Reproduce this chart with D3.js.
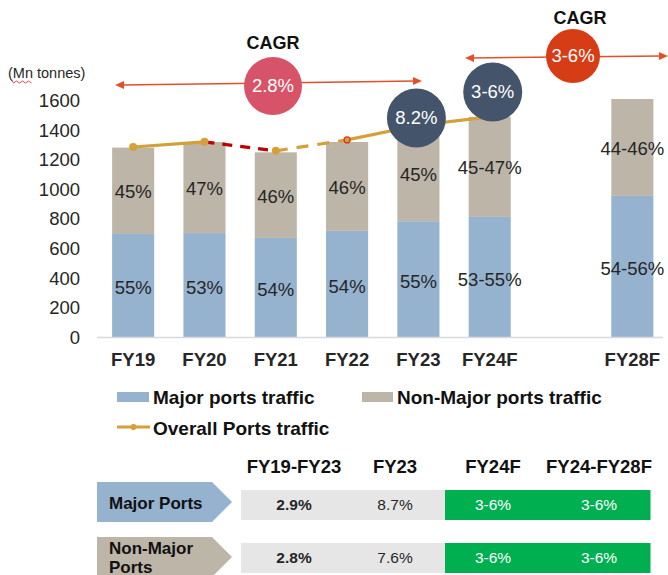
<!DOCTYPE html>
<html lang="en">
<head>
	<meta charset="UTF-8">
	<title>Port traffic</title>
	<script src="https://cdn.jsdelivr.net/npm/d3@7"></script>
	<style>
		*{
			margin: 0px;
			box-sizing: border-box;
		}
		html,body{
			width:668px;
			height:575px;
			overflow: hidden;
			background:#fff;
		}
		text{
			font-family: "Liberation Sans", Arial, sans-serif;
		}
		.yAxis path,.yAxis line,.xAxis path,.xAxis line{
			stroke:none;
		}
	</style>
</head>
<body>
	<svg id="svg"></svg>
	<script>
		// chart data
		var years = ["FY19", "FY20", "FY21", "FY22", "FY23", "FY24F", "FY28F"];
		var majorTraffic = [699, 705, 672, 720, 785, 814, 956];
		var nonMajorTraffic = [583, 615, 578, 600, 645, 676, 654];
		var majorShare = ["55%", "53%", "54%", "54%", "55%", "53-55%", "54-56%"];
		var nonMajorShare = ["45%", "47%", "46%", "46%", "45%", "45-47%", "44-46%"];
		var lineYears = ["FY19", "FY20", "FY21", "FY22", "FY23", "FY24F"];
		var overallTraffic = [1286, 1321, 1260, 1334, 1433, 1490];
		var yTicks = [0, 200, 400, 600, 800, 1000, 1200, 1400, 1600];

		// CAGR table
		var tableHeaders = ["FY19-FY23", "FY23", "FY24F", "FY24-FY28F"];
		var tableRows = [["Major Ports"], ["Non-Major", "Ports"]];
		var tableValues = [
			["2.9%", "8.7%", "3-6%", "3-6%"],
			["2.8%", "7.6%", "3-6%", "3-6%"]
		];

		var w = 668, h = 575;
		var svg = d3.select("#svg").attr("width", w).attr("height", h);

		var cMajor = "#95b3cf", cNon = "#bdb5a7", cLine = "#d4a03a", cRed = "#c00000";
		var txt = "#262626";

		var slots = years.slice(0, 6).concat([" "]).concat(["FY28F"]);
		var x = d3.scaleBand().domain(slots).range([97.5, 668])
			.paddingInner(0.41).paddingOuter(0.205);
		var y = d3.scaleLinear().domain([0, 1600]).range([337.5, 100.5]);
		var cx = function(d) { return x(d) + x.bandwidth() / 2; };

		// y axis
		svg.append("g").attr("class", "yAxis")
			.attr("transform", "translate(84,0)")
			.call(d3.axisLeft(y).tickValues(yTicks).tickFormat(d3.format("d")).tickSize(0).tickPadding(4))
			.selectAll("text")
			.style("font-size", "18.5px")
			.style("font-family", "'Liberation Sans', Arial, sans-serif")
			.attr("fill", txt);

		svg.append("text").attr("x", 8).attr("y", 78)
			.style("font-size", "14.5px").attr("fill", txt).text("(Mn tonnes)");
		// spell-check squiggle
		var sq = d3.path();
		sq.moveTo(12, 81);
		for (var i = 0; i < 7; i++) {
			sq.lineTo(13.5 + i * 3, i % 2 == 0 ? 83 : 81);
		}
		svg.append("path").attr("d", sq.toString()).attr("fill", "none")
			.attr("stroke", "#e02020").attr("stroke-width", 0.8);

		// stacked bars
		var g = svg.append("g");
		years.forEach(function(yr, i) {
			var m = majorTraffic[i], n = nonMajorTraffic[i];
			g.append("rect").attr("x", x(yr)).attr("width", x.bandwidth())
				.attr("y", y(m)).attr("height", y(0) - y(m)).attr("fill", cMajor);
			g.append("rect").attr("x", x(yr)).attr("width", x.bandwidth())
				.attr("y", y(m + n)).attr("height", y(m) - y(m + n)).attr("fill", cNon);
			g.append("text").attr("x", cx(yr)).attr("y", y(m / 2) + 2)
				.attr("dy", "0.35em").attr("text-anchor", "middle")
				.style("font-size", "18.5px").attr("fill", txt).text(majorShare[i]);
			g.append("text").attr("x", cx(yr)).attr("y", y(m + n / 2) + 1)
				.attr("dy", "0.35em").attr("text-anchor", "middle")
				.style("font-size", "18.5px").attr("fill", txt).text(nonMajorShare[i]);
		});

		// x axis
		svg.append("line").attr("x1", 97).attr("x2", 663)
			.attr("y1", y(0)).attr("y2", y(0))
			.attr("stroke", "#d9d9d9").attr("stroke-width", 1.5);
		svg.append("g").attr("class", "xAxis")
			.attr("transform", "translate(0," + y(0) + ")")
			.call(d3.axisBottom(x).tickValues(years).tickSize(0).tickPadding(15))
			.selectAll("text")
			.style("font-size", "18.5px").style("font-weight", "bold")
			.style("font-family", "'Liberation Sans', Arial, sans-serif")
			.attr("fill", txt);

		// overall traffic line, segment styles
		var pts = lineYears.map(function(yr, i) { return [cx(yr), y(overallTraffic[i])]; });
		var segStyle = [
			{ c: cLine, dash: null },
			{ c: cRed, dash: "10,8" },
			{ c: cLine, dash: "12,9" },
			{ c: cLine, dash: null },
			{ c: cLine, dash: null }
		];
		var lineG = svg.append("g");
		for (var s = 0; s < pts.length - 1; s++) {
			lineG.append("line")
				.attr("x1", pts[s][0]).attr("y1", pts[s][1])
				.attr("x2", pts[s + 1][0]).attr("y2", pts[s + 1][1])
				.attr("stroke", segStyle[s].c).attr("stroke-width", 3.2)
				.attr("stroke-dasharray", segStyle[s].dash);
		}
		[0, 1, 2].forEach(function(i) {
			lineG.append("circle").attr("cx", pts[i][0]).attr("cy", pts[i][1])
				.attr("r", 4).attr("fill", cLine);
		});
		lineG.append("circle").attr("cx", pts[3][0]).attr("cy", pts[3][1])
			.attr("r", 3).attr("fill", cLine).attr("stroke", "#e03020").attr("stroke-width", 1.2);

		// CAGR annotations
		function arrow(x1, y1, x2, y2, col) {
			svg.append("line").attr("x1", x1 + 6).attr("y1", y1).attr("x2", x2 - 6).attr("y2", y2)
				.attr("stroke", col).attr("stroke-width", 1.5);
			svg.append("path").attr("d", "M" + x1 + "," + y1 + "L" + (x1 + 9) + "," + (y1 - 4) + "L" + (x1 + 9) + "," + (y1 + 4) + "Z").attr("fill", col);
			svg.append("path").attr("d", "M" + x2 + "," + y2 + "L" + (x2 - 9) + "," + (y2 - 4) + "L" + (x2 - 9) + "," + (y2 + 4) + "Z").attr("fill", col);
		}
		function bubble(bx, by, r, col, label) {
			svg.append("circle").attr("cx", bx).attr("cy", by).attr("r", r).attr("fill", col);
			svg.append("text").attr("x", bx).attr("y", by).attr("dy", "0.35em")
				.attr("text-anchor", "middle").style("font-size", "18.5px")
				.attr("fill", "#fff").text(label);
		}
		function cagrTitle(tx, ty) {
			svg.append("text").attr("x", tx).attr("y", ty).attr("dy", "0.35em")
				.attr("text-anchor", "middle").style("font-size", "18px")
				.style("font-weight", "bold").attr("fill", "#111").text("CAGR");
		}

		arrow(115, 85, 422, 81, "#e0502a");
		cagrTitle(273, 43);
		bubble(273, 86, 29, "#d75468", "2.8%");

		arrow(465, 58, 668, 56, "#e0502a");
		cagrTitle(580, 18);
		bubble(573, 56, 27, "#d63d17", "3-6%");

		bubble(cx("FY23") - 2, 118, 29.5, "#44546a", "8.2%");
		bubble(cx("FY24F") + 3, 92, 29.5, "#44546a", "3-6%");

		// legend
		var lg = svg.append("g").style("font-size", "19px").style("font-weight", "bold");
		lg.append("rect").attr("x", 117).attr("y", 392).attr("width", 32).attr("height", 10).attr("fill", cMajor);
		lg.append("text").attr("x", 153).attr("y", 397).attr("dy", "0.35em").attr("fill", "#111").text("Major ports traffic");
		lg.append("rect").attr("x", 362).attr("y", 392).attr("width", 31).attr("height", 10).attr("fill", cNon);
		lg.append("text").attr("x", 397).attr("y", 397).attr("dy", "0.35em").attr("fill", "#111").text("Non-Major ports traffic");
		lg.append("line").attr("x1", 117).attr("x2", 150).attr("y1", 427).attr("y2", 427)
			.attr("stroke", cLine).attr("stroke-width", 3.2);
		lg.append("circle").attr("cx", 133.5).attr("cy", 427).attr("r", 3).attr("fill", cLine);
		lg.append("text").attr("x", 153).attr("y", 428).attr("dy", "0.35em").attr("fill", "#111").text("Overall Ports traffic");

		// CAGR table
		var colCenters = [294, 395, 493, 599];
		var colEdges = [241, 344, 445, 547, 650];
		var rowTops = [482, 537];
		var cellTops = [490, 543];
		var rowFill = [cMajor, cNon];

		var tg = svg.append("g");
		tableHeaders.forEach(function(t, j) {
			tg.append("text").attr("x", colCenters[j]).attr("y", 467).attr("dy", "0.35em")
				.attr("text-anchor", "middle").style("font-size", "18.5px")
				.style("font-weight", "bold").attr("fill", "#111").text(t);
		});
		tableRows.forEach(function(lines, r) {
			var t0 = rowTops[r];
			tg.append("path")
				.attr("d", "M97," + t0 + "L212," + t0 + "L232," + (t0 + 20) + "L212," + (t0 + 40) + "L97," + (t0 + 40) + "Z")
				.attr("fill", rowFill[r]);
			lines.forEach(function(l, k) {
				var ly = lines.length == 1 ? t0 + 21 : t0 + 11 + k * 19;
				tg.append("text").attr("x", 109).attr("y", ly).attr("dy", "0.35em")
					.style("font-size", "17px").style("font-weight", "bold")
					.attr("fill", "#111").text(l);
			});
			tableValues[r].forEach(function(v, j) {
				var green = j >= 2;
				tg.append("rect").attr("x", colEdges[j]).attr("y", cellTops[r])
					.attr("width", colEdges[j + 1] - colEdges[j] + 0.5).attr("height", 30)
					.attr("fill", green ? "#00b050" : "#e7e6e6");
				tg.append("text").attr("x", colCenters[j]).attr("y", cellTops[r] + 15).attr("dy", "0.35em")
					.attr("text-anchor", "middle").style("font-size", "15.5px")
					.style("font-weight", j == 0 ? "bold" : "normal")
					.attr("fill", green ? "#fff" : txt).text(v);
			});
		});
	</script>
</body>
</html>
